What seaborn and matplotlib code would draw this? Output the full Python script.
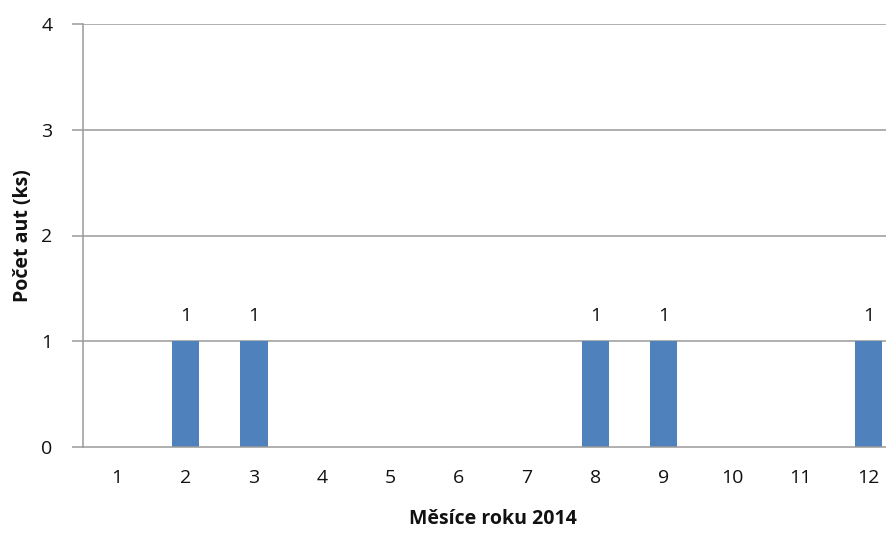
import matplotlib
matplotlib.use("Agg")
import matplotlib.pyplot as plt
import seaborn as sns
import pandas as pd

months = [str(m) for m in range(1, 13)]
cars = [0, 1, 1, 0, 0, 0, 0, 1, 1, 0, 0, 1]
y_ticks = [0, 1, 2, 3, 4]

sns.set_theme(style="white")
plt.rcParams["font.family"] = ["Open Sans", "DejaVu Sans"]

df = pd.DataFrame({"month": months, "cars": cars})

fig = plt.figure(figsize=(8.86, 5.36), dpi=100)
# plot area runs slightly past the right edge of the canvas
ax = fig.add_axes([83 / 886, (536 - 447) / 536, 820 / 886, 423 / 536])

sns.barplot(data=df, x="month", y="cars", color="#4F81BD", width=0.4,
            saturation=1, linewidth=0, ax=ax, zorder=3)

grid_c = "#9a9a9a"
ax.set_ylim(0, 4)
ax.set_xlim(-0.5, 11.5)
ax.set_yticks(y_ticks)
for y in y_ticks[1:]:
    ax.axhline(y, color=grid_c, lw=1.1, zorder=1)

for side in ["top", "right"]:
    ax.spines[side].set_visible(False)
for side in ["left", "bottom"]:
    ax.spines[side].set_color(grid_c)
    ax.spines[side].set_linewidth(1.1)
    ax.spines[side].set_zorder(4)

fs = 14
ax.tick_params(axis="y", length=8, width=1.1, color=grid_c, direction="out",
               labelsize=fs, pad=14, left=True, labelcolor="#111111")
ax.tick_params(axis="x", length=0, labelsize=fs, pad=16, labelcolor="#111111")

for i, v in enumerate(cars):
    if v > 0:
        ax.text(i, v + 0.15, str(v), ha="center", va="bottom", fontsize=fs,
                color="#111111")

ax.set_xlabel("Měsíce roku 2014", fontsize=fs, fontweight="bold", labelpad=16,
              color="#111111")
ax.set_ylabel("Počet aut (ks)", fontsize=fs, fontweight="bold", labelpad=6,
              color="#111111")
ax.xaxis.label.set_position((410 / 820, 0))

fig.savefig("out.png", dpi=100)
